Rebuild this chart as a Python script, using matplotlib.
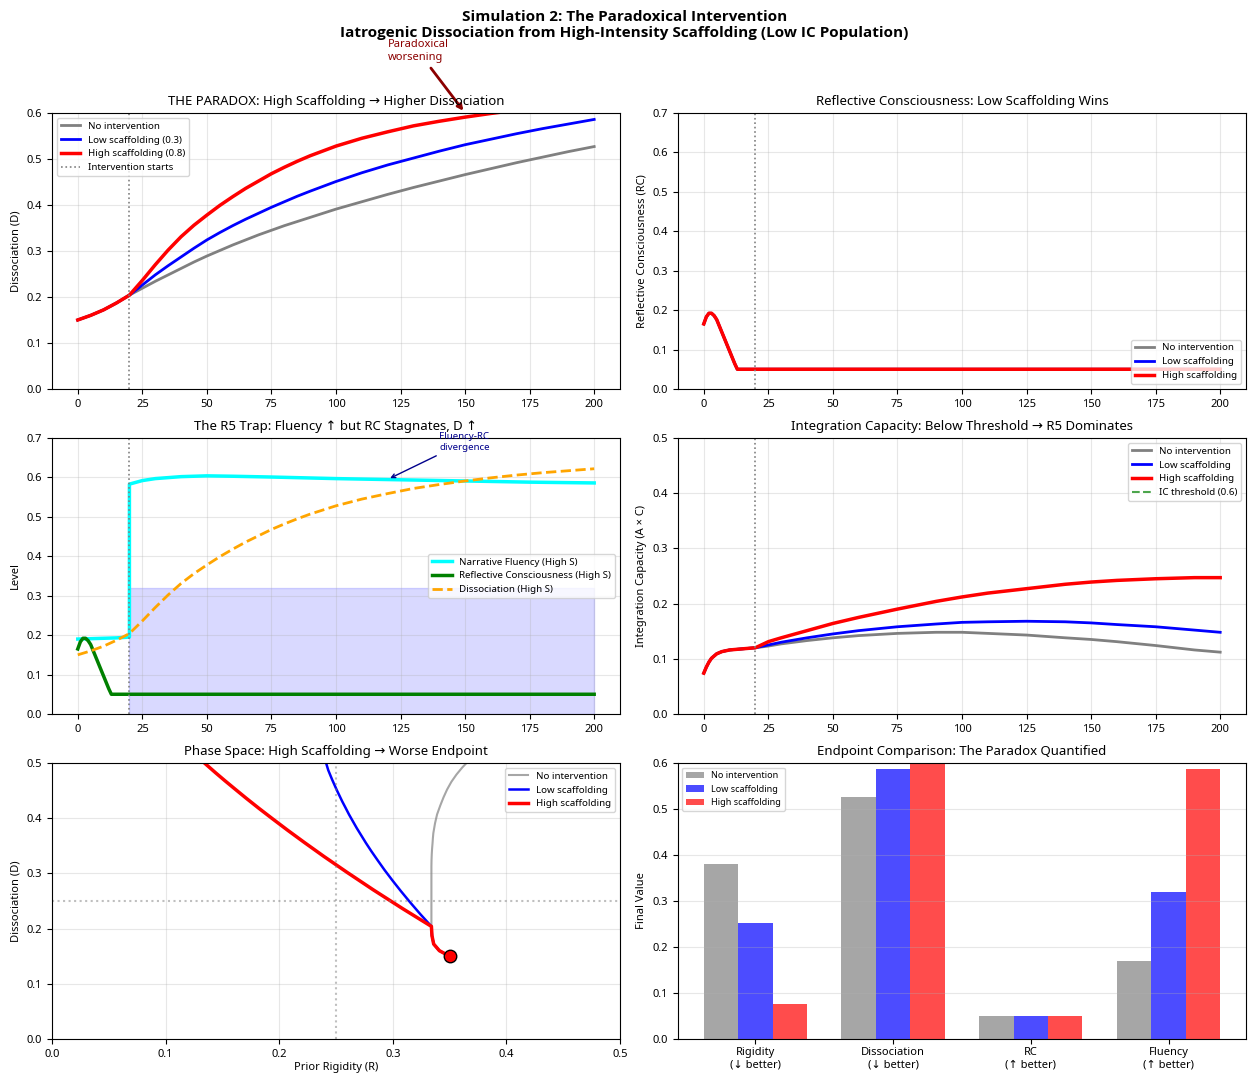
import numpy as np
import matplotlib
matplotlib.use("Agg")
import matplotlib.pyplot as plt

plt.rcParams['font.family'] = ['Noto Sans', 'DejaVu Sans']

# tiempo (pasos de simulacion)
t = [0, 5, 10, 15, 20, 25, 30, 35, 40, 45, 50, 55, 60, 65, 70, 75, 80, 85, 90,
     100, 110, 120, 130, 140, 150, 160, 170, 180, 190, 200]

# Disociacion D
D_none = [0.150, 0.160, 0.172, 0.187, 0.204, 0.219, 0.234, 0.248, 0.262, 0.276, 0.289,
          0.301, 0.313, 0.324, 0.335, 0.345, 0.355, 0.364, 0.373,
          0.391, 0.407, 0.423, 0.438, 0.452, 0.466, 0.479, 0.492, 0.504, 0.516, 0.527]
D_low = [0.150, 0.160, 0.172, 0.187, 0.204, 0.226, 0.248, 0.268, 0.287, 0.306, 0.324,
         0.340, 0.355, 0.369, 0.382, 0.395, 0.407, 0.419, 0.430,
         0.451, 0.470, 0.487, 0.502, 0.517, 0.531, 0.543, 0.555, 0.566, 0.576, 0.586]
D_high = [0.150, 0.160, 0.172, 0.187, 0.204, 0.236, 0.270, 0.302, 0.331, 0.356, 0.378,
          0.399, 0.418, 0.436, 0.452, 0.468, 0.482, 0.495, 0.507,
          0.528, 0.545, 0.559, 0.572, 0.582, 0.591, 0.599, 0.606, 0.612, 0.617, 0.622]

# Rigidez previa R
R_none = [0.350, 0.341, 0.336, 0.3345, 0.334, 0.334, 0.334, 0.334, 0.334, 0.334, 0.334,
          0.334, 0.334, 0.3341, 0.3343, 0.3346, 0.335, 0.3353, 0.3357,
          0.3372, 0.339, 0.3418, 0.3447, 0.3478, 0.3516, 0.356, 0.3612, 0.3668, 0.373, 0.380]
R_low = [0.350, 0.341, 0.336, 0.3345, 0.334, 0.3243, 0.3151, 0.3071, 0.2998, 0.2928, 0.2866,
         0.2812, 0.2764, 0.2722, 0.2683, 0.2647, 0.2614, 0.2584, 0.2556,
         0.2507, 0.2466, 0.2432, 0.241, 0.2412, 0.2425, 0.244, 0.246, 0.248, 0.250, 0.252]
R_high = [0.350, 0.341, 0.336, 0.3345, 0.334, 0.3088, 0.283, 0.2597, 0.2392, 0.2222, 0.2076,
          0.1941, 0.1821, 0.1711, 0.1616, 0.1522, 0.1442, 0.137, 0.1304,
          0.120, 0.112, 0.105, 0.099, 0.094, 0.089, 0.085, 0.082, 0.079, 0.077, 0.075]

# Conciencia reflexiva RC (igual en los tres casos)
t_rc = [0, 1, 2, 3, 4, 5, 6, 8, 10, 12, 13, 20, 50, 100, 150, 200]
RC = [0.165, 0.183, 0.192, 0.192, 0.186, 0.176, 0.160, 0.128, 0.096, 0.064, 0.05,
      0.05, 0.05, 0.05, 0.05, 0.05]

# Fluidez narrativa (S alto)
t_fl = [0, 5, 10, 15, 20, 20, 25, 30, 40, 50, 60, 75, 100, 125, 150, 175, 200]
fl_high = [0.190, 0.191, 0.192, 0.193, 0.195, 0.583, 0.592, 0.597, 0.602, 0.604, 0.603,
           0.601, 0.597, 0.594, 0.591, 0.588, 0.586]

# Capacidad de integracion IC
t_ic = [0, 1, 2, 3, 5, 7, 10, 15, 20, 25, 30, 40, 50, 60, 75, 90, 100, 110, 125,
        140, 150, 160, 175, 190, 200]
IC_none = [0.074, 0.085, 0.094, 0.101, 0.109, 0.113, 0.116, 0.118, 0.120, 0.123, 0.127,
           0.133, 0.138, 0.142, 0.146, 0.148, 0.148, 0.146, 0.143, 0.138, 0.135,
           0.131, 0.124, 0.116, 0.112]
IC_low = [0.074, 0.085, 0.094, 0.101, 0.109, 0.113, 0.116, 0.118, 0.120, 0.125, 0.130,
          0.138, 0.145, 0.151, 0.158, 0.163, 0.166, 0.167, 0.168, 0.167, 0.165,
          0.162, 0.158, 0.152, 0.148]
IC_high = [0.074, 0.085, 0.094, 0.101, 0.109, 0.113, 0.116, 0.118, 0.120, 0.131, 0.138,
           0.151, 0.164, 0.175, 0.190, 0.204, 0.212, 0.219, 0.227, 0.235, 0.239,
           0.242, 0.245, 0.247, 0.247]

# Valores finales
metricas = ['Rigidity\n(↓ better)', 'Dissociation\n(↓ better)', 'RC\n(↑ better)', 'Fluency\n(↑ better)']
fin_none = [R_none[-1], D_none[-1], RC[-1], 0.170]
fin_low = [R_low[-1], D_low[-1], RC[-1], 0.320]
fin_high = [R_high[-1], D_high[-1], RC[-1], fl_high[-1]]

t_int = 20          # inicio de la intervencion
zona_top = 0.32     # banda sombreada R5
ic_umbral = 0.6

fig = plt.figure(figsize=(12.49, 10.73), dpi=100)
W, H = 0.4548, 0.2572
xs = [0.0416, 0.5428]
ys = [0.6375, 0.3346, 0.0317]
ax1 = fig.add_axes([xs[0], ys[0], W, H])
ax2 = fig.add_axes([xs[1], ys[0], W, H])
ax3 = fig.add_axes([xs[0], ys[1], W, H])
ax4 = fig.add_axes([xs[1], ys[1], W, H])
ax5 = fig.add_axes([xs[0], ys[2], W, H])
ax6 = fig.add_axes([xs[1], ys[2], W, H])

fig.suptitle('Simulation 2: The Paradoxical Intervention\n'
             'Iatrogenic Dissociation from High-Intensity Scaffolding (Low IC Population)',
             fontsize=11, fontweight='bold', family=['Open Sans', 'DejaVu Sans'], y=0.991)

tfs = 9.5  # titulos
lfs = 8    # etiquetas

# 1. La paradoja
ax1.plot(t, D_none, color='gray', lw=2, label='No intervention')
ax1.plot(t, D_low, color='blue', lw=2, label='Low scaffolding (0.3)')
ax1.plot(t, D_high, color='red', lw=2.5, label='High scaffolding (0.8)')
ax1.axvline(t_int, color='gray', ls=':', lw=1.2, label='Intervention starts')
ax1.set_ylim(0, 0.6)
ax1.set_ylabel('Dissociation (D)', fontsize=lfs)
ax1.set_title('THE PARADOX: High Scaffolding → Higher Dissociation', fontsize=tfs)
ax1.legend(loc='upper left', fontsize=7)
ax1.grid(True, alpha=0.3)
ax1.annotate('Paradoxical\nworsening', xy=(150, 0.6), xytext=(120, 0.715),
             fontsize=8, color='darkred', annotation_clip=False,
             arrowprops=dict(arrowstyle='->', color='darkred', lw=2))

# 2. RC
ax2.plot(t_rc, RC, color='gray', lw=2, label='No intervention')
ax2.plot(t_rc, RC, color='blue', lw=2, label='Low scaffolding')
ax2.plot(t_rc, RC, color='red', lw=2.5, label='High scaffolding')
ax2.axvline(t_int, color='gray', ls=':', lw=1.2)
ax2.set_ylim(0, 0.7)
ax2.set_ylabel('Reflective Consciousness (RC)', fontsize=lfs)
ax2.set_title('Reflective Consciousness: Low Scaffolding Wins', fontsize=tfs)
ax2.legend(loc='lower right', fontsize=7)
ax2.grid(True, alpha=0.3)

# 3. Trampa R5
ax3.plot(t_fl, fl_high, color='cyan', lw=2.5, label='Narrative Fluency (High S)')
ax3.plot(t_rc, RC, color='green', lw=2.5, label='Reflective Consciousness (High S)')
ax3.plot(t, D_high, color='orange', lw=2, ls='--', label='Dissociation (High S)')
ax3.fill_between([t_int, 200], 0, zona_top, color='blue', alpha=0.15)
ax3.axvline(t_int, color='gray', ls=':', lw=1.2)
ax3.set_ylim(0, 0.7)
ax3.set_ylabel('Level', fontsize=lfs)
ax3.set_title('The R5 Trap: Fluency ↑ but RC Stagnates, D ↑', fontsize=tfs)
ax3.legend(loc='center right', fontsize=7)
ax3.grid(True, alpha=0.3)
ax3.annotate('Fluency-RC\ndivergence', xy=(120, 0.595), xytext=(140, 0.67),
             fontsize=7, color='darkblue',
             arrowprops=dict(arrowstyle='->', color='darkblue', lw=1))

# 4. IC
ax4.plot(t_ic, IC_none, color='gray', lw=2, label='No intervention')
ax4.plot(t_ic, IC_low, color='blue', lw=2, label='Low scaffolding')
ax4.plot(t_ic, IC_high, color='red', lw=2.5, label='High scaffolding')
ax4.axhline(ic_umbral, color='green', ls='--', alpha=0.7, label='IC threshold (0.6)')
ax4.axvline(t_int, color='gray', ls=':', lw=1.2)
ax4.set_ylim(0, 0.5)
ax4.set_ylabel('Integration Capacity (A × C)', fontsize=lfs)
ax4.set_title('Integration Capacity: Below Threshold → R5 Dominates', fontsize=tfs)
ax4.legend(loc='upper right', fontsize=7)
ax4.grid(True, alpha=0.3)

# 5. Espacio de fases
ax5.plot(R_none, D_none, color='gray', lw=1.5, alpha=0.7, label='No intervention')
ax5.plot(R_low, D_low, color='blue', lw=1.8, label='Low scaffolding')
ax5.plot(R_high, D_high, color='red', lw=2.5, label='High scaffolding')
ax5.plot(R_high[0], D_high[0], 'o', color='red', mec='black', ms=9)
ax5.axvline(0.25, color='gray', ls=':', alpha=0.5)
ax5.axhline(0.25, color='gray', ls=':', alpha=0.5)
ax5.set_xlim(0, 0.5)
ax5.set_ylim(0, 0.5)
ax5.set_xlabel('Prior Rigidity (R)', fontsize=lfs, labelpad=2)
ax5.set_ylabel('Dissociation (D)', fontsize=lfs)
ax5.set_title('Phase Space: High Scaffolding → Worse Endpoint', fontsize=tfs)
ax5.legend(loc='upper right', fontsize=7)
ax5.grid(True, alpha=0.3)

# 6. Barras finales
x = np.arange(len(metricas))
w = 0.25
ax6.bar(x - w, fin_none, w, color='gray', alpha=0.7, label='No intervention')
ax6.bar(x, fin_low, w, color='blue', alpha=0.7, label='Low scaffolding')
ax6.bar(x + w, fin_high, w, color='red', alpha=0.7, label='High scaffolding')
ax6.set_xticks(x)
ax6.set_xticklabels(metricas, fontsize=7)
ax6.set_ylim(0, 0.6)
ax6.set_ylabel('Final Value', fontsize=lfs)
ax6.set_title('Endpoint Comparison: The Paradox Quantified', fontsize=tfs)
ax6.legend(loc='upper left', fontsize=6.5)
ax6.grid(True, alpha=0.3, axis='y')

for ax in [ax1, ax2, ax3, ax4, ax5, ax6]:
    ax.tick_params(labelsize=8)
ax6.tick_params(axis='x', pad=2)

plt.savefig('out.png', dpi=100)
